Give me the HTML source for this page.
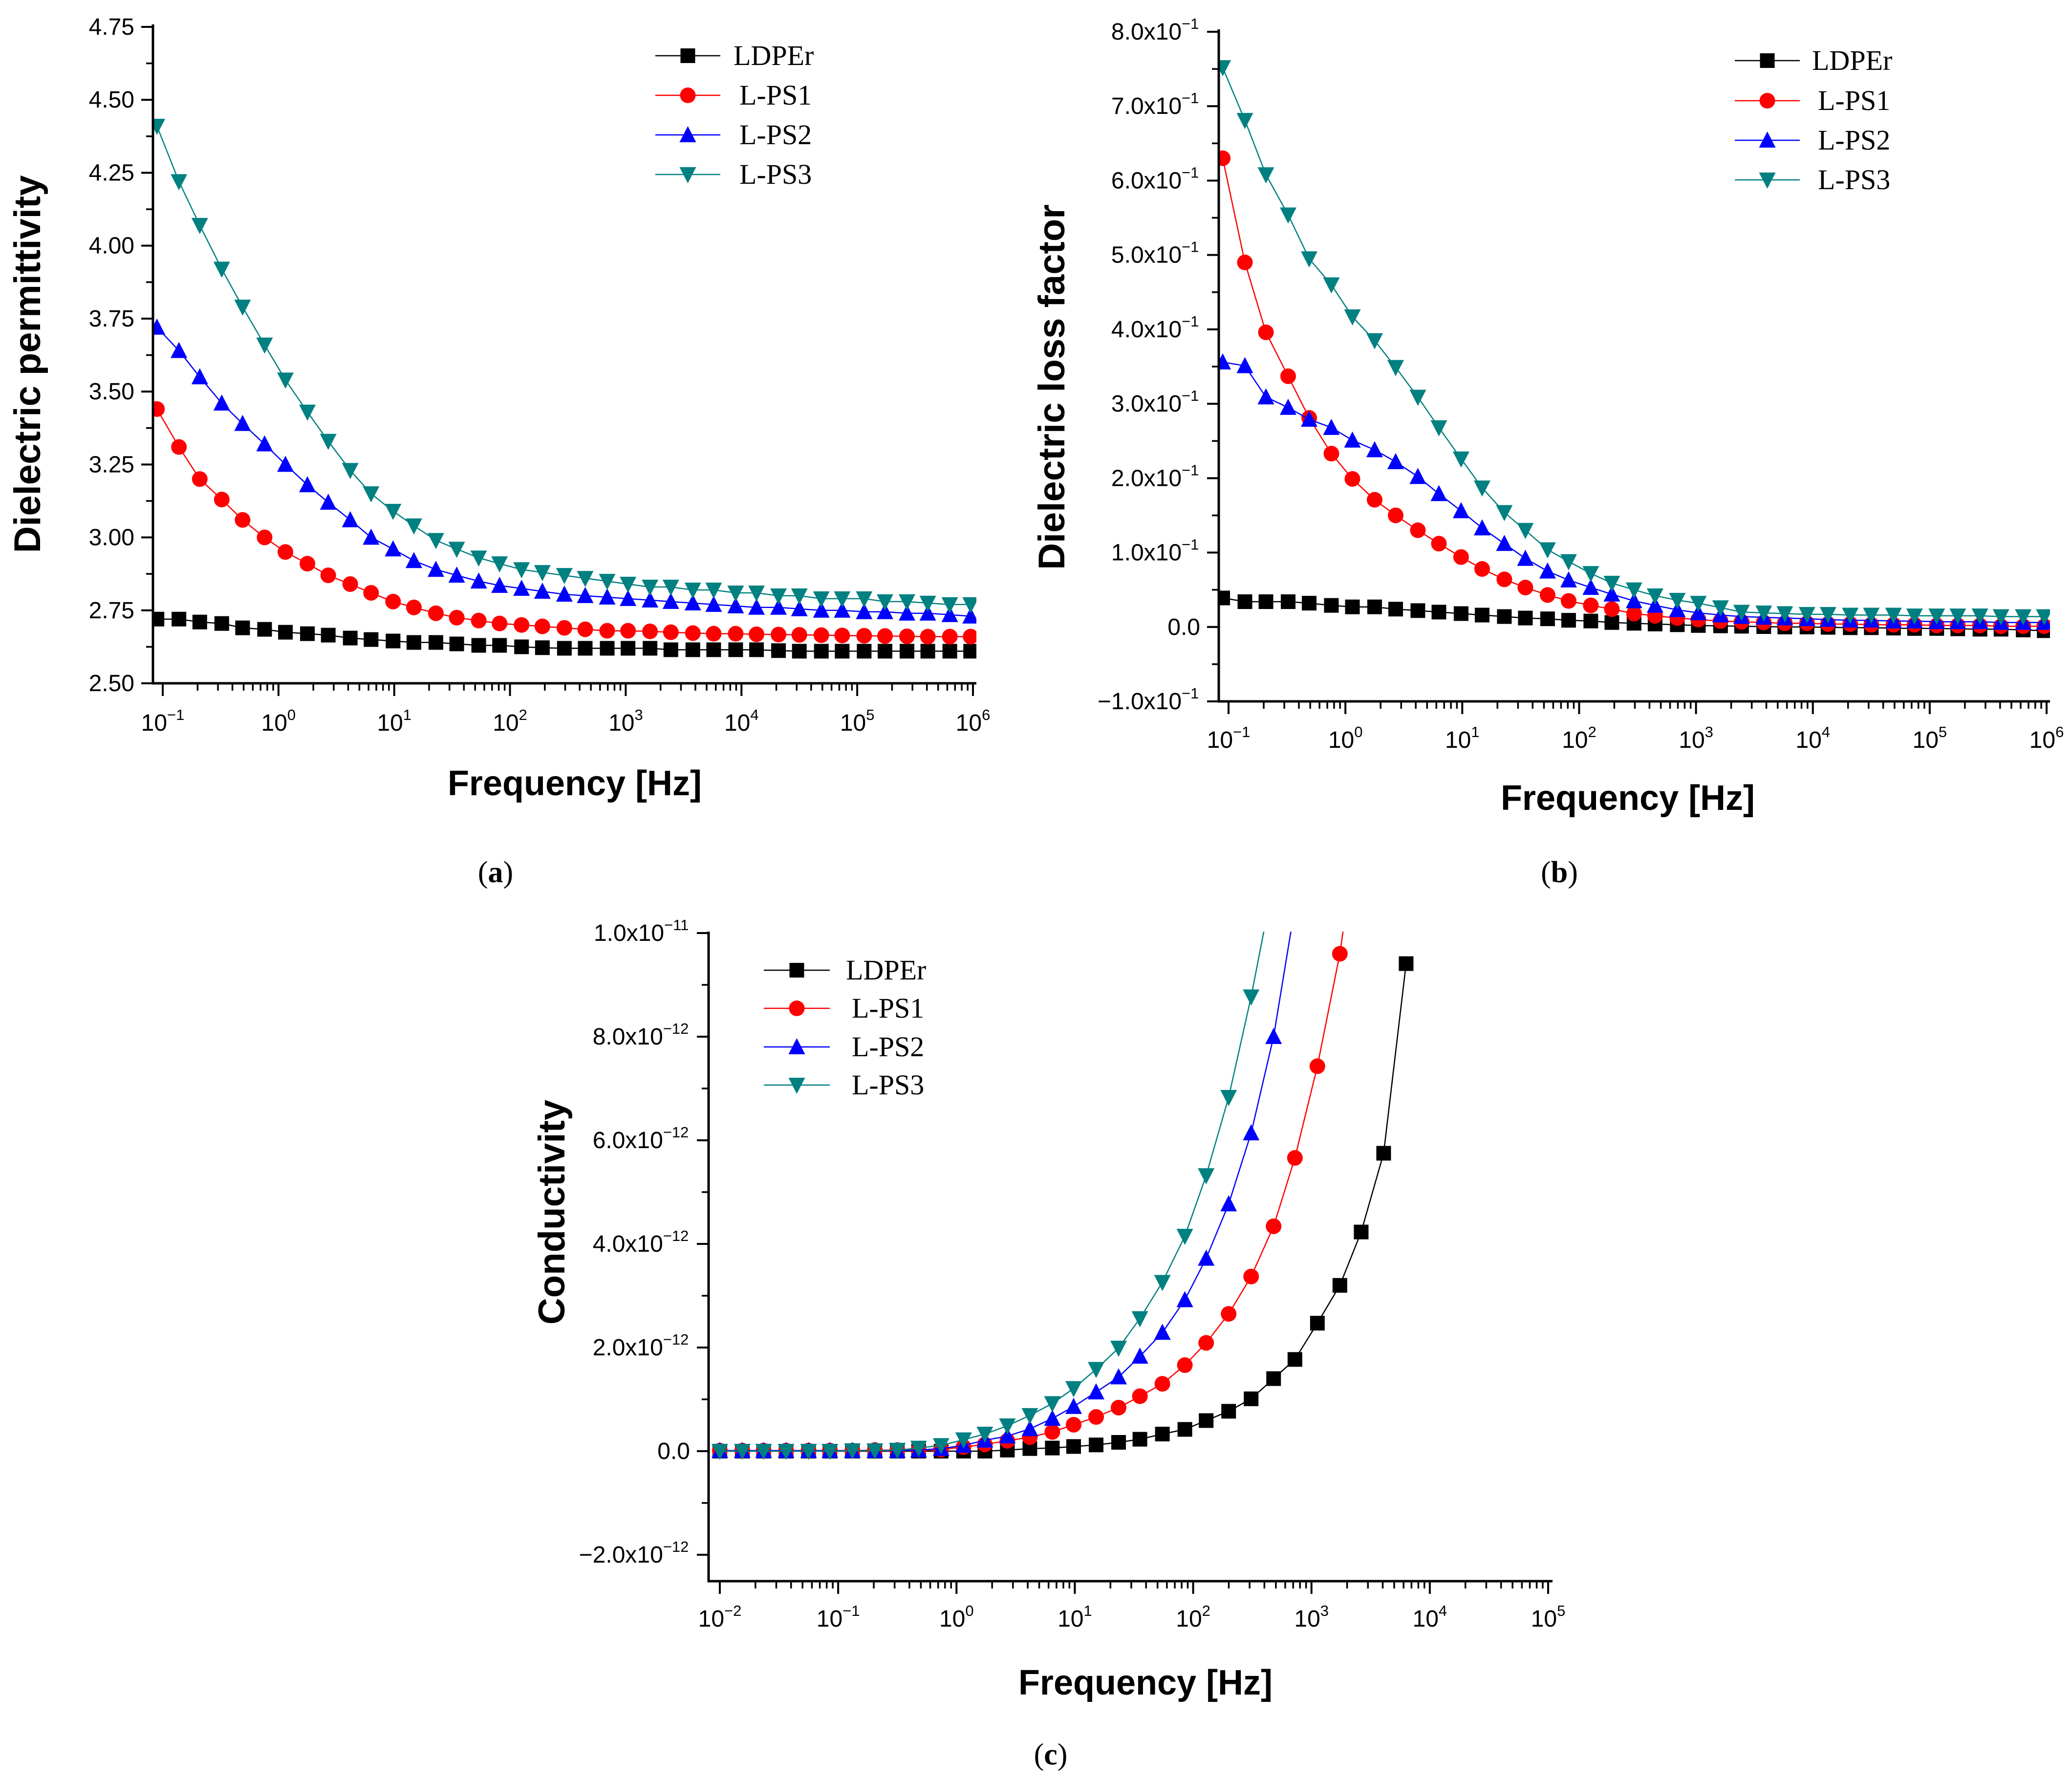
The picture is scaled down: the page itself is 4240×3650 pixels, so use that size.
<!DOCTYPE html>
<html>
<head>
<meta charset="utf-8">
<style>
html,body{margin:0;padding:0;background:#fff;}
svg{display:block;}
</style>
</head>
<body>
<svg id="fig" xmlns="http://www.w3.org/2000/svg" width="4240" height="3650" viewBox="0 0 4240 3650" style="font-family:'Liberation Sans',sans-serif">
<rect width="4240" height="3650" fill="#fff"/>
</svg>
<script>
// ---------- data ----------
const logFreqAB = [-1.05,-0.86,-0.68,-0.49,-0.31,-0.12,0.06,0.25,0.43,0.62,0.80,0.99,1.17,1.36,1.54,1.73,1.91,2.10,2.28,2.47,2.65,2.84,3.02,3.21,3.39,3.58,3.76,3.95,4.13,4.32,4.50,4.69,4.87,5.06,5.24,5.43,5.61,5.80,5.98];
const logFreqC = [-2.00,-1.81,-1.63,-1.44,-1.25,-1.07,-0.88,-0.69,-0.50,-0.32,-0.13,0.06,0.24,0.43,0.62,0.81,0.99,1.18,1.37,1.55,1.74,1.93,2.11,2.30,2.49,2.68,2.86,3.05,3.24,3.42,3.61,3.80];
const seriesNames = ["LDPEr","L-PS1","L-PS2","L-PS3"];

const permLDPEr = [2.72,2.72,2.71,2.705,2.69,2.685,2.675,2.67,2.665,2.655,2.65,2.645,2.64,2.64,2.635,2.63,2.63,2.625,2.622,2.62,2.62,2.62,2.62,2.62,2.615,2.615,2.615,2.615,2.615,2.612,2.61,2.61,2.61,2.61,2.61,2.61,2.61,2.61,2.61];
const permPS1 = [3.44,3.31,3.20,3.13,3.06,3.00,2.95,2.91,2.87,2.84,2.81,2.78,2.76,2.74,2.725,2.715,2.705,2.70,2.695,2.69,2.685,2.68,2.68,2.678,2.675,2.672,2.67,2.67,2.668,2.667,2.666,2.665,2.664,2.663,2.662,2.661,2.66,2.66,2.66];
const permPS2 = [3.72,3.64,3.55,3.46,3.39,3.32,3.25,3.18,3.12,3.06,3.00,2.96,2.92,2.89,2.87,2.85,2.835,2.825,2.815,2.805,2.80,2.795,2.79,2.785,2.78,2.775,2.77,2.765,2.76,2.76,2.755,2.75,2.75,2.745,2.745,2.74,2.74,2.735,2.73];
const permPS3 = [4.41,4.22,4.07,3.92,3.79,3.66,3.54,3.43,3.33,3.23,3.15,3.09,3.04,2.99,2.96,2.93,2.91,2.89,2.88,2.87,2.86,2.85,2.84,2.83,2.83,2.82,2.82,2.81,2.81,2.80,2.80,2.79,2.79,2.79,2.78,2.78,2.775,2.77,2.77];

// loss factor in units of 1e-1
const lossLDPEr = [.39,.34,.34,.34,.32,.29,.27,.27,.24,.22,.20,.18,.16,.14,.12,.11,.09,.08,.06,.05,.04,.03,.02,.015,.01,.005,0,0,-.005,-.01,-.01,-.015,-.02,-.02,-.025,-.03,-.03,-.04,-.05];
const lossPS1 = [6.30,4.90,3.96,3.37,2.81,2.33,1.99,1.71,1.50,1.30,1.12,.94,.78,.64,.53,.43,.35,.29,.24,.18,.15,.12,.10,.08,.07,.06,.05,.05,.04,.04,.03,.03,.03,.02,.02,.02,.01,.01,.01];
const lossPS2 = [3.56,3.51,3.09,2.95,2.79,2.68,2.51,2.38,2.22,2.02,1.79,1.56,1.33,1.12,.92,.75,.63,.53,.44,.35,.29,.23,.19,.16,.14,.13,.12,.11,.10,.09,.09,.08,.08,.07,.07,.07,.06,.06,.06];
const lossPS3 = [7.52,6.81,6.08,5.54,4.95,4.60,4.17,3.85,3.49,3.09,2.68,2.26,1.87,1.54,1.30,1.04,.88,.72,.59,.50,.42,.36,.32,.26,.20,.19,.18,.17,.17,.16,.16,.16,.15,.15,.15,.15,.14,.14,.14];

// conductivity in units of 1e-12
const condLDPEr = [0,0,0,0,0,0,0,0,0,0,0,0,0,.02,.05,.06,.09,.12,.17,.23,.33,.42,.59,.77,1.01,1.40,1.77,2.47,3.20,4.23,5.75,9.41];
const condPS1 = [.01,.01,.01,.01,.01,.01,.01,.02,.02,.02,.03,.08,.13,.20,.27,.37,.51,.66,.84,1.06,1.30,1.66,2.09,2.65,3.37,4.34,5.66,7.43,9.60,12.5,16,21];
const condPS2 = [.01,.01,.01,.01,.01,.01,.01,.01,.01,.02,.05,.11,.21,.29,.43,.63,.86,1.14,1.43,1.83,2.29,2.92,3.72,4.77,6.14,8.0,10.5,13.5,17,22,28,35];
const condPS3 = [0,0,0,0,0,0,.01,.01,.02,.06,.11,.22,.33,.49,.69,.92,1.21,1.58,1.99,2.56,3.26,4.15,5.32,6.83,8.77,11,14,18,23,29,36,45];

const yTicksA = [2.50,2.75,3.00,3.25,3.50,3.75,4.00,4.25,4.50,4.75];
const yTickLabelsA = ["2.50","2.75","3.00","3.25","3.50","3.75","4.00","4.25","4.50","4.75"];
const yTicksB = [-1,0,1,2,3,4,5,6,7,8];
const yTickMantB = ["\u22121.0","0.0","1.0","2.0","3.0","4.0","5.0","6.0","7.0","8.0"];
const yTicksC = [-2,0,2,4,6,8,10];
const yTickMantC = ["\u22122.0","0.0","2.0","4.0","6.0","8.0","1.0"];
const yTickExpC = ["\u221212","","\u221212","\u221212","\u221212","\u221212","\u221211"];

// ---------- helpers ----------
const NS = "http://www.w3.org/2000/svg";
const svg = document.getElementById("fig");
const colors = ["#000000","#ff0000","#0000ff","#008080"];
const shapes = ["square","circle","up","down"];
const SERIF = "font-family:'Liberation Serif',serif";
function mk(tag, attrs, parent){
  const e = document.createElementNS(NS, tag);
  for (const k in attrs) e.setAttribute(k, attrs[k]);
  (parent||svg).appendChild(e);
  return e;
}
function marker(shape, cx, cy, col, g){
  const s = 15;
  let e;
  if (shape==="square") e = mk("rect",{x:cx-s,y:cy-s,width:2*s,height:2*s,fill:col},g);
  else if (shape==="circle") e = mk("circle",{cx:cx,cy:cy,r:s+1,fill:col},g);
  else if (shape==="up") e = mk("polygon",{points:`${cx},${cy-s-3} ${cx+s+2},${cy+s} ${cx-s-2},${cy+s}`,fill:col},g);
  else e = mk("polygon",{points:`${cx},${cy+s+3} ${cx+s+2},${cy-s} ${cx-s-2},${cy-s}`,fill:col},g);
  return e;
}

function drawPanel(p){
  const g = mk("g",{});
  
  
  const X = v => p.x0 + (v - p.lx0) / (p.lx1 - p.lx0) * (p.x1 - p.x0);
  const Y = v => p.y0 + (v - p.v0) / (p.v1 - p.v0) * (p.y1 - p.y0);
  const clipId = p.name + "-clip";
  const cp = mk("clipPath",{id:clipId},g);
  mk("rect",{x:p.axL,y:p.axT,width:p.axR-p.axL,height:p.axB-p.axT},cp);

  const sg = mk("g",{"clip-path":`url(#${clipId})`},g);
  p.series.forEach((vals,si)=>{
    const pts = vals.map((v,i)=>X(p.xs[i]).toFixed(1)+","+Y(v).toFixed(1)).join(" ");
    const line = mk("polyline",{points:pts,fill:"none",stroke:colors[si],"stroke-width":2.5},sg);
    
    
    vals.forEach((v,i)=>{
      const m = marker(shapes[si], X(p.xs[i]), Y(v), colors[si], sg);
      
      
    });
  });

  const ax = mk("path",{d:`M${p.axL},${p.axT} L${p.axL},${p.axB} L${p.axR},${p.axB}`,fill:"none",stroke:"#000","stroke-width":5},g);
  
  

  for (let d = p.lx0; d <= p.lx1; d++){
    const tx = X(d);
    mk("line",{x1:tx,y1:p.axB,x2:tx,y2:p.axB+26,stroke:"#000","stroke-width":4},g);
    const t = mk("text",{x:tx,y:p.xlabY,"font-size":48,"text-anchor":"middle"},g);
    
    
    t.appendChild(document.createTextNode("10"));
    const sup = mk("tspan",{dy:-22,"font-size":31},t);
    sup.textContent = d<0 ? "\u2212"+(-d) : String(d);
    if (d < p.lx1){
      for (let k=2;k<=9;k++){
        const mx = X(d+Math.log10(k));
        mk("line",{x1:mx,y1:p.axB,x2:mx,y2:p.axB+15,stroke:"#000","stroke-width":3.5},g);
      }
    }
  }
  p.yt.forEach((v,i)=>{
    const ty = Y(v);
    mk("line",{x1:p.axL-24,y1:ty,x2:p.axL,y2:ty,stroke:"#000","stroke-width":4},g);
    if (i < p.yt.length-1){
      const my = Y((v + p.yt[i+1])/2);
      mk("line",{x1:p.axL-14,y1:my,x2:p.axL,y2:my,stroke:"#000","stroke-width":3.5},g);
    }
    const t = mk("text",{x:p.axL-38,y:ty+16,"font-size":48,"text-anchor":"end"},g);
    
    
    if (p.ylab) { t.textContent = p.ylab[i]; }
    else {
      const e = p.yexp[i];
      if (e === "") { t.textContent = p.ymant[i]; }
      else {
        t.appendChild(document.createTextNode(p.ymant[i] + "x10"));
        const sup = mk("tspan",{dy:-22,"font-size":31},t);
        sup.textContent = e;
        const z = mk("tspan",{dy:22,"font-size":31},t);
        z.textContent = "\u200a";
      }
    }
  });
  const yt = mk("text",{x:p.ytx,y:p.yty,"font-size":76,"font-weight":"bold","text-anchor":"middle",transform:`rotate(-90 ${p.ytx} ${p.yty})`},g);
  
  
  yt.textContent = p.ytitle;
  const xt = mk("text",{x:p.xtx,y:p.xty,"font-size":72,"font-weight":"bold","text-anchor":"middle"},g);
  
  
  xt.textContent = "Frequency [Hz]";
  const cap = mk("text",{x:p.capx,y:p.capy,"font-size":62,"text-anchor":"middle",style:SERIF},g);
  
  
  cap.appendChild(document.createTextNode("("));
  const b = mk("tspan",{"font-weight":"bold"},cap); b.textContent = p.cap;
  cap.appendChild(document.createTextNode(")"));

  const lg = mk("g",{},g);
  
  
  seriesNames.forEach((n,si)=>{
    const ly = p.legY[si];
    const e = mk("g",{},lg);
    
    
    mk("line",{x1:p.legX0,y1:ly,x2:p.legX1,y2:ly,stroke:colors[si],"stroke-width":2.5},e);
    marker(shapes[si],(p.legX0+p.legX1)/2,ly,colors[si],e);
    const t = mk("text",{x:p.legTX + (si===0?0:12),y:ly+19,"font-size":58,style:SERIF},e);
    t.textContent = n;
  });
}

drawPanel({name:"panel-a-permittivity", xs:logFreqAB, series:[permLDPEr,permPS1,permPS2,permPS3],
  lx0:-1, lx1:6, x0:333, x1:1991, v0:2.5, v1:4.75, y0:1398, y1:55,
  axL:313, axR:1998, axT:50, axB:1398, xlabY:1495,
  yt:yTicksA, ylab:yTickLabelsA,
  ytitle:"Dielectric permittivity", ytx:82, yty:745, xtx:1176, xty:1627,
  cap:"a", capx:1014, capy:1805,
  legX0:1341, legX1:1474, legTX:1501, legY:[114,195,276,357]});

drawPanel({name:"panel-b-loss-factor", xs:logFreqAB, series:[lossLDPEr,lossPS1,lossPS2,lossPS3],
  lx0:-1, lx1:6, x0:2514, x1:4188, v0:-1, v1:8, y0:1435, y1:65,
  axL:2494, axR:4195, axT:60, axB:1435, xlabY:1530,
  yt:yTicksB, ymant:yTickMantB, yexp:yTicksB.map(v=>v===0?"":"\u22121"),
  ytitle:"Dielectric loss factor", ytx:2178, yty:792, xtx:3331, xty:1657,
  cap:"b", capx:3191, capy:1805,
  legX0:3550, legX1:3683, legTX:3708, legY:[124,206,287,368]});

drawPanel({name:"panel-c-conductivity", xs:logFreqC, series:[condLDPEr,condPS1,condPS2,condPS3],
  lx0:-2, lx1:5, x0:1473, x1:3168, v0:-2, v1:10, y0:3181, y1:1909,
  axL:1450, axR:3177, axT:1906, axB:3235, xlabY:3328,
  yt:yTicksC, ymant:yTickMantC, yexp:yTickExpC,
  ytitle:"Conductivity", ytx:1155, yty:2480, xtx:2344, xty:3467,
  cap:"c", capx:2150, capy:3610,
  legX0:1563, legX1:1698, legTX:1731, legY:[1985,2063,2142,2220]});
</script>
</body>
</html>
